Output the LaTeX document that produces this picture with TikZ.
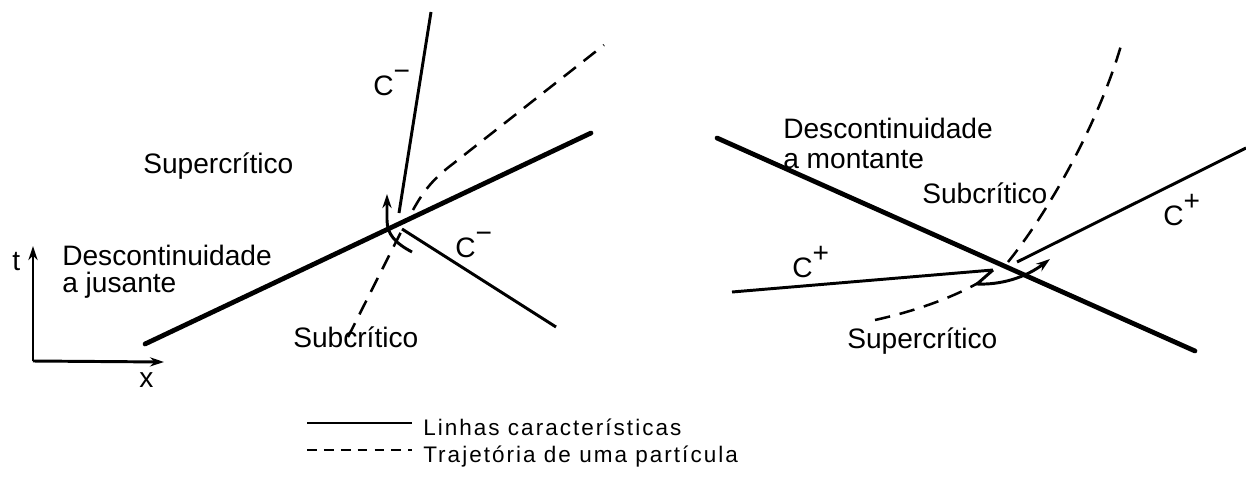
\documentclass[tikz,border=0pt]{standalone}
\usepackage{fontspec}
\setmainfont{Liberation Sans}
\usetikzlibrary{arrows.meta}

\newcommand{\supsign}[1]{\raisebox{0.5em}{\fontsize{20}{20}\selectfont #1}}

\begin{document}
\begin{tikzpicture}[
    x=0.025cm, y=-0.025cm,
    >={Stealth[length=10pt,width=6.5pt]},
    font=\fontsize{20}{19}\selectfont,
    shockline/.style={line width=3.4pt, line cap=round},
    charline/.style={line width=2.1pt},
    pathline/.style={line width=1.8pt, dash pattern=on 11pt off 7pt},
    lbl/.style={inner sep=0pt, anchor=base west},
    twolbl/.style={inner sep=0pt, anchor=north west, align=left},
    legendlbl/.style={inner sep=0pt, anchor=base west,
        font=\fontsize{16}{18}\selectfont\addfontfeature{LetterSpace=9}}
]
    \useasboundingbox (0,0) rectangle (1246,480);

    % left: descontinuidade a jusante
    \coordinate (o) at (33,361);
    \coordinate (tax) at (33,246);
    \coordinate (xax) at (164,362);
    \draw[charline, ->] (o) -- (tax);
    \draw[charline, ->] (o) -- (xax);
    \node[lbl] (tlbl) at (12,270) {t};
    \node[lbl] (xlbl) at (139,387) {x};

    \coordinate (sa) at (145,344);
    \coordinate (sb) at (591,133);
    \draw[shockline] (sa) -- (sb);

    \coordinate (ca) at (399,213);
    \coordinate (cb) at (431,12);
    \coordinate (cc) at (402,229);
    \coordinate (cd) at (556,327);
    \draw[charline] (ca) -- (cb);
    \draw[charline] (cc) -- (cd);

    \coordinate (pa) at (348,337);
    \coordinate (pb) at (401,232);
    \coordinate (pc) at (413,210);
    \coordinate (pd) at (604,45);
    \draw[pathline] (pa) -- (pb);
    \draw[pathline] (pc) .. controls (424,190) and (434,178) .. (454,163) -- (pd);

    \coordinate (aa) at (412,252);
    \coordinate (ab) at (387,194);
    \draw[charline, ->] (aa) .. controls (395,243) and (387,234) .. (387,220) -- (ab);

    \node[lbl] (cm1) at (373,95) {C\supsign{−}};
    \node[lbl] (cm2) at (455,257) {C\supsign{−}};
    \node[lbl] (sup1) at (143,173) {Supercrítico};
    \node[twolbl] (dj) at (62,245) {Descontinuidade\\a jusante};
    \node[lbl] (sub1) at (293,347) {Subcrítico};

    % right: descontinuidade a montante
    \coordinate (ra) at (717,138);
    \coordinate (rb) at (1195,351);
    \draw[shockline] (ra) -- (rb);

    \coordinate (qa) at (732,292);
    \coordinate (qb) at (993,270);
    \coordinate (qc) at (1017,262);
    \coordinate (qd) at (1246,148);
    \draw[charline] (qa) -- (qb);
    \draw[charline] (qc) -- (qd);

    \coordinate (ua) at (875,320);
    \coordinate (ub) at (978,283);
    \coordinate (uc) at (1008,262);
    \coordinate (ud) at (1122,42);
    \draw[pathline] (ua) .. controls (920,310) and (955,296) .. (ub);
    \draw[pathline] (uc) .. controls (1050,210) and (1100,120) .. (ud);

    \coordinate (va) at (977,284);
    \coordinate (vb) at (1050,259);
    \draw[charline, ->] (qb) -- (va) .. controls (1000,285) and (1025,278) .. (vb);

    \node[lbl] (cp1) at (792,277) {C\supsign{+}};
    \node[lbl] (cp2) at (1163,225) {C\supsign{+}};
    \node[twolbl] (dm) at (783,118) {Descontinuidade\\[2.4pt]a montante};
    \node[lbl] (sub2) at (922,203) {Subcrítico};
    \node[lbl] (sup2) at (847,348) {Supercrítico};

    % legend
    \coordinate (la) at (307,423);
    \coordinate (lb) at (412,423);
    \coordinate (lc) at (307,450);
    \coordinate (ld) at (412,450);
    \draw[charline] (la) -- (lb);
    \draw[pathline, dash pattern=on 7pt off 5pt] (lc) -- (ld);
    \node[legendlbl] (leg1) at (423,435) {Linhas características};
    \node[legendlbl] (leg2) at (423,462) {Trajetória de uma partícula};
\end{tikzpicture}
\end{document}
